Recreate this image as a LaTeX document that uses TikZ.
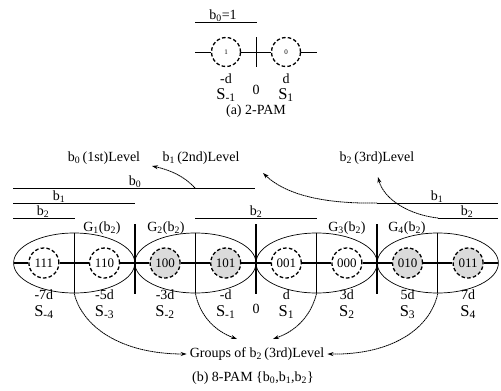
\documentclass[tikz,border=0pt]{standalone}
\usepackage{fontspec}
\setmainfont{Liberation Serif}
\usetikzlibrary{arrows.meta,shapes.geometric}
\begin{document}
\begin{tikzpicture}[x=1pt,y=-1pt,
  txt/.style={inner sep=0pt,font=\fontsize{14}{16}\selectfont},
  slab/.style={inner sep=0pt,font=\fontsize{16.5}{18}\selectfont},
  sym/.style={circle,draw,line width=1.3pt,dash pattern=on 3.6pt off 2.2pt,minimum size=30pt,inner sep=0pt,font=\fontsize{13}{15}\selectfont},
  symg/.style={sym,fill=gray!28},
  ell/.style={ellipse,draw,line width=0.7pt,minimum width=121.2pt,minimum height=60pt,inner sep=0pt},
  bar/.style={line width=0.9pt},
  axis/.style={line width=1.1pt},
  sep/.style={line width=1.3pt},
  arr/.style={line width=0.8pt,dash pattern=on 1.6pt off 0.5pt,-{Stealth[length=6pt,width=4pt]}},
  grparr/.style={arr}
]
\useasboundingbox (0,0) rectangle (501,391);
% ---------- (a) 2-PAM ----------
\node[txt] (b0eq) at (223,16) {b\textsubscript{0}=1};
\coordinate (ul1) at (195,22); \coordinate (ul2) at (257,22);
\draw[bar] (ul1) -- (ul2);
\node[sym,minimum size=29pt,font=\fontsize{7}{8}\selectfont] (t1) at (226,52) {1};
\node[sym,minimum size=29pt,font=\fontsize{7}{8}\selectfont] (t0) at (286,52) {0};
\coordinate (tl) at (195,52); \coordinate (tr) at (317,52);
\coordinate (tvt) at (256,37); \coordinate (tvb) at (256,67);
\draw[line width=0.9pt] (tl) -- (t1) -- (t0) -- (tr);
\draw[line width=0.9pt] (tvt) -- (tvb);
\node[txt] (tmd) at (226,79) {-d};
\node[slab] (tsm) at (226,95) {S\textsubscript{-1}};
\node[txt] (tz) at (256,90) {0};
\node[txt] (tpd) at (286,79) {d};
\node[slab] (tsp) at (286,95) {S\textsubscript{1}};
\node[txt] (capa) at (256,111) {(a) 2-PAM};
% ---------- (b) 8-PAM ----------
\node[txt] (lv0) at (104,158) {b\textsubscript{0}\,(1st)Level};
\node[txt] (lv1) at (201,158) {b\textsubscript{1}\,(2nd)Level};
\node[txt] (lv2) at (377,158) {b\textsubscript{2}\,(3rd)Level};
% bars
\coordinate (b0s) at (13,188); \coordinate (b0e) at (255,188);
\coordinate (b1s) at (13,203); \coordinate (b1e) at (135,203);
\coordinate (b2s) at (13,218); \coordinate (b2e) at (75,218);
\coordinate (b2ms) at (195,218); \coordinate (b2me) at (317,218);
\coordinate (b1rs) at (377,203); \coordinate (b1re) at (498,203);
\coordinate (b2rs) at (438,218); \coordinate (b2re) at (498,218);
\draw[bar] (b0s) -- (b0e);
\draw[bar] (b1s) -- (b1e);
\draw[bar] (b2s) -- (b2e);
\draw[bar] (b2ms) -- (b2me);
\draw[bar] (b1rs) -- (b1re);
\draw[bar] (b2rs) -- (b2re);
\node[txt,anchor=south] (lb0) at (135,188) {b\textsubscript{0}};
\node[txt,anchor=south] (lb1) at (59,203) {b\textsubscript{1}};
\node[txt,anchor=south] (lb2) at (43,218) {b\textsubscript{2}};
\node[txt,anchor=south] (lb2m) at (256,218) {b\textsubscript{2}};
\node[txt,anchor=south] (lb1r) at (437,203) {b\textsubscript{1}};
\node[txt,anchor=south] (lb2r) at (467,218) {b\textsubscript{2}};
% level arrows
\coordinate (a0s) at (195,188); \coordinate (a0t) at (152,166);
\coordinate (a1t) at (263,173);
\coordinate (a2t) at (378,177);
\draw[arr] (a0s) .. controls (184,176) and (170,170) .. (a0t);
\draw[arr] (b1rs) .. controls (322,204) and (285,194) .. (a1t);
\draw[arr] (b2rs) .. controls (410,215) and (384,200) .. (a2t);
% ellipses
\node[ell] (e1) at (74.2,263) {};
\node[ell] (e2) at (195.4,263) {};
\node[ell] (e3) at (316.6,263) {};
\node[ell] (e4) at (437.8,263) {};
% group labels
\node[txt] (g1) at (102,228) {G\textsubscript{1}(b\textsubscript{2})};
\node[txt] (g2) at (166,228) {G\textsubscript{2}(b\textsubscript{2})};
\node[txt] (g3) at (347,228) {G\textsubscript{3}(b\textsubscript{2})};
\node[txt] (g4) at (407,228) {G\textsubscript{4}(b\textsubscript{2})};
% symbols
\node[sym]  (sm4) at (43.9,263)  {111};
\node[sym]  (sm3) at (104.5,263) {110};
\node[symg] (sm2) at (165.1,263) {100};
\node[symg] (sm1) at (225.7,263) {101};
\node[sym]  (sp1) at (286.3,263) {001};
\node[sym]  (sp2) at (346.9,263) {000};
\node[symg] (sp3) at (407.5,263) {010};
\node[symg] (sp4) at (468.1,263) {011};
\coordinate (axl) at (14,263); \coordinate (axr) at (498,263);
\draw[axis] (axl) -- (sm4) -- (sm3) -- (sm2) -- (sm1) -- (sp1) -- (sp2) -- (sp3) -- (sp4) -- (axr);
% separators
\coordinate (v1t) at (135,224); \coordinate (v1b) at (135,294);
\coordinate (v2t) at (256,224); \coordinate (v2b) at (256,294);
\coordinate (v3t) at (377,224); \coordinate (v3b) at (377,294);
\draw[sep] (v1t) -- (v1b);
\draw[sep] (v2t) -- (v2b);
\draw[sep] (v3t) -- (v3b);
\draw[line width=0.8pt] (e1.north) -- (e1.south);
\draw[line width=0.8pt] (e2.north) -- (e2.south);
\draw[line width=0.8pt] (e3.north) -- (e3.south);
\draw[line width=0.8pt] (e4.north) -- (e4.south);
% values
\node[txt] (vm4) at (43.9,295) {-7d};
\node[txt] (vm3) at (104.5,295) {-5d};
\node[txt] (vm2) at (165.1,295) {-3d};
\node[txt] (vm1) at (225.7,295) {-d};
\node[txt] (vp1) at (286.3,295) {d};
\node[txt] (vp2) at (346.9,295) {3d};
\node[txt] (vp3) at (407.5,295) {5d};
\node[txt] (vp4) at (468.1,295) {7d};
\node[slab] (lm4) at (43.9,312) {S\textsubscript{-4}};
\node[slab] (lm3) at (104.5,312) {S\textsubscript{-3}};
\node[slab] (lm2) at (165.1,312) {S\textsubscript{-2}};
\node[slab] (lm1) at (225.7,312) {S\textsubscript{-1}};
\node[txt]  (zz)  at (256,309) {0};
\node[slab] (lp1) at (286.3,312) {S\textsubscript{1}};
\node[slab] (lp2) at (346.9,312) {S\textsubscript{2}};
\node[slab] (lp3) at (407.5,312) {S\textsubscript{3}};
\node[slab] (lp4) at (468.1,312) {S\textsubscript{4}};
% groups
\node[txt] (grp) at (257,354) {Groups of b\textsubscript{2}\,(3rd)Level};
\coordinate (gt1) at (237,339); \coordinate (gt2) at (273,339);
\draw[grparr] (e1.south) .. controls (82,326) and (120,354) .. ([xshift=-3pt]grp.west);
\draw[grparr] (e2.south) .. controls (200,316) and (215,331) .. (gt1);
\draw[grparr] (e3.south) .. controls (311,316) and (296,331) .. (gt2);
\draw[grparr] (e4.south) .. controls (430,330) and (390,355) .. ([xshift=3pt]grp.east);
\node[txt] (capb) at (253,378) {(b) 8-PAM \{b\textsubscript{0},b\textsubscript{1},b\textsubscript{2}\}};
\end{tikzpicture}
\end{document}
